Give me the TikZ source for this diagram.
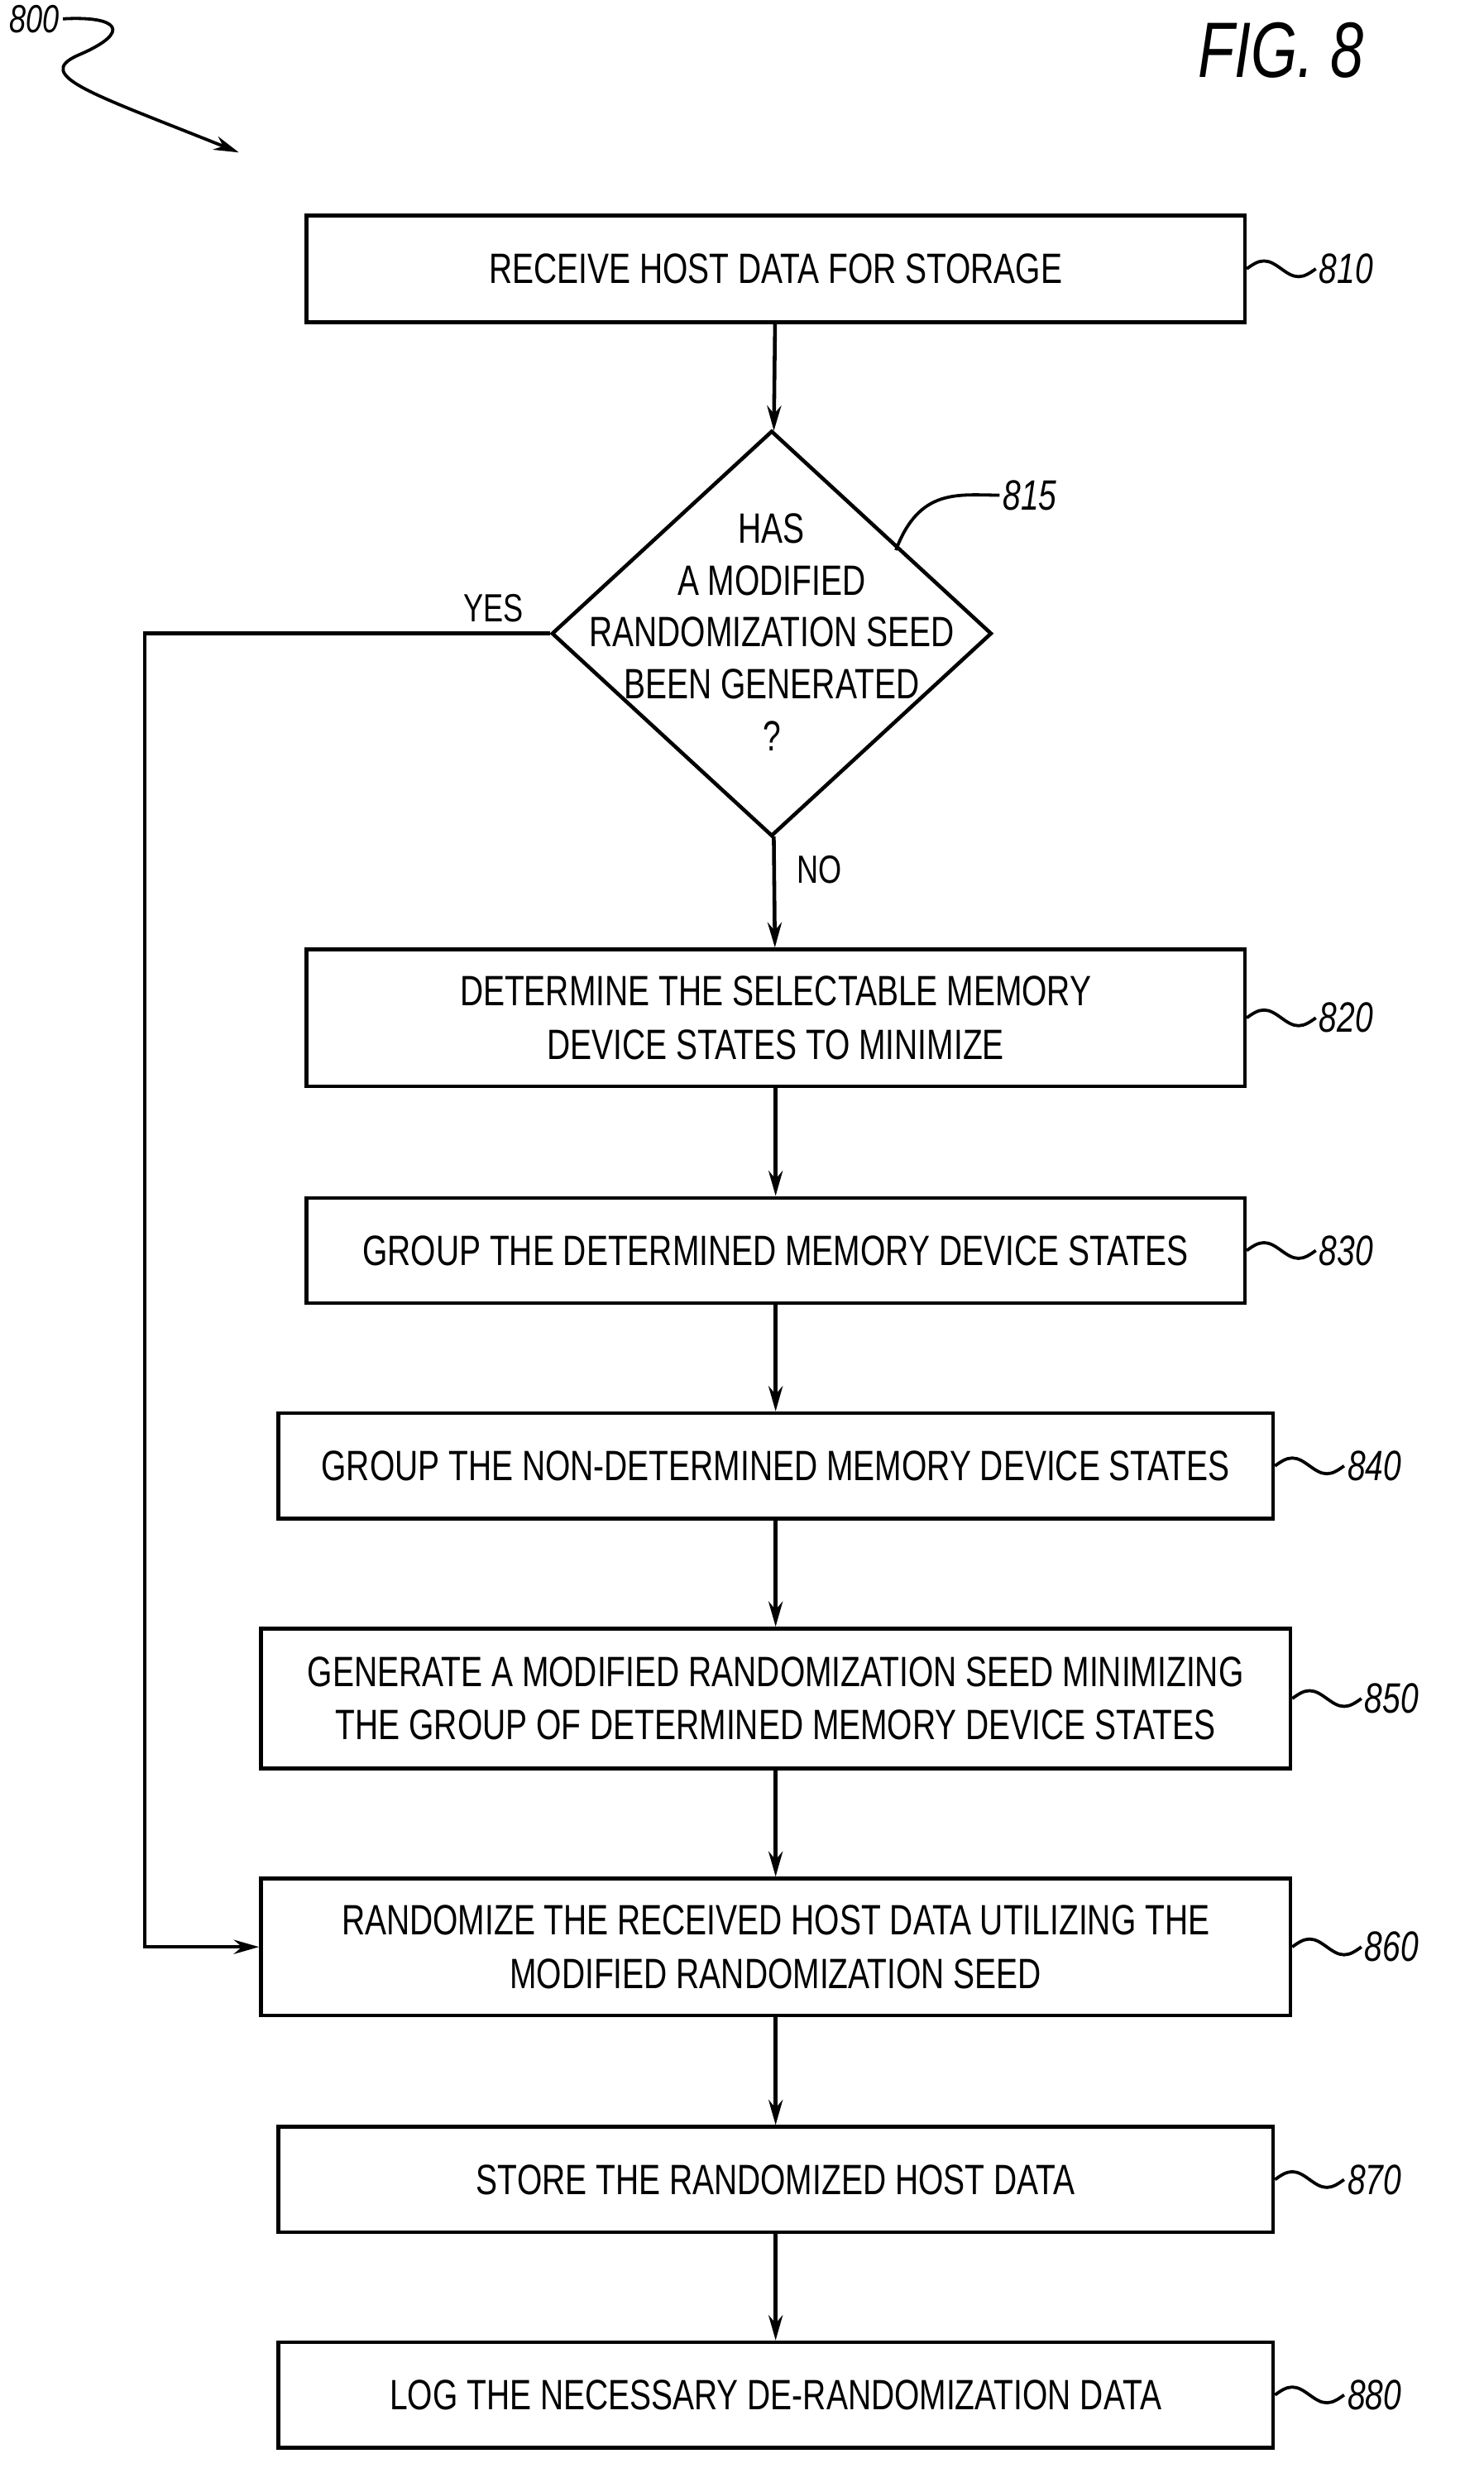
\documentclass[tikz,border=0pt]{standalone}
\usepackage{fontspec}
\setmainfont{Liberation Sans}[FakeStretch=0.76]
\usetikzlibrary{shapes.geometric,arrows.meta}
\begin{document}
\begin{tikzpicture}[x=1pt,y=-1pt,line width=2.4pt,
  box/.style={draw,rectangle,inner sep=0pt,align=center,font=\fontsize{27}{34}\selectfont},
  arr/.style={-{Stealth[length=16pt,width=9pt]}},
  lbl/.style={font=\fontsize{27}{30}\selectfont\itshape,anchor=west,inner sep=1pt},
  lead/.style={line width=2pt}]
\useasboundingbox (0,0) rectangle (944,1570);
\node[box,minimum width=597pt,minimum height=68pt] (b810) at (493.5,171) {RECEIVE HOST DATA FOR STORAGE};
\node[draw,diamond,aspect=1.085,minimum width=280pt,minimum height=258pt,inner sep=0pt] (d) at (491,403) {};
\node[align=center,font=\fontsize{27}{33}\selectfont] (dt) at (491,402) {HAS\\A MODIFIED\\RANDOMIZATION SEED\\BEEN GENERATED\\?};
\node[box,minimum width=597pt,minimum height=87pt] (b820) at (493.5,647.5) {DETERMINE THE SELECTABLE MEMORY\\DEVICE STATES TO MINIMIZE};
\node[box,minimum width=597pt,minimum height=67pt] (b830) at (493.5,795.5) {GROUP THE DETERMINED MEMORY DEVICE STATES};
\node[box,minimum width=633pt,minimum height=67pt] (b840) at (493.5,932.5) {GROUP THE NON-DETERMINED MEMORY DEVICE STATES};
\node[box,minimum width=655pt,minimum height=89pt] (b850) at (493.5,1080.5) {GENERATE A MODIFIED RANDOMIZATION SEED MINIMIZING\\THE GROUP OF DETERMINED MEMORY DEVICE STATES};
\node[box,minimum width=655pt,minimum height=87pt] (b860) at (493.5,1238.5) {RANDOMIZE THE RECEIVED HOST DATA UTILIZING THE\\MODIFIED RANDOMIZATION SEED};
\node[box,minimum width=633pt,minimum height=67pt] (b870) at (493.5,1386.5) {STORE THE RANDOMIZED HOST DATA};
\node[box,minimum width=633pt,minimum height=67pt] (b880) at (493.5,1523.5) {LOG THE NECESSARY DE-RANDOMIZATION DATA};
\draw[arr] (b810) -- (d);
\draw[arr] (d) -- (b820) node[pos=0.3,right=10pt,font=\fontsize{25}{28}\selectfont] (no) {NO};
\draw[arr] (b820) -- (b830);
\draw[arr] (b830) -- (b840);
\draw[arr] (b840) -- (b850);
\draw[arr] (b850) -- (b860);
\draw[arr] (b860) -- (b870);
\draw[arr] (b870) -- (b880);
\coordinate (c1) at (92,403);
\draw[arr] (d.west) -- (c1) |- (b860.west);
\node[font=\fontsize{25}{28}\selectfont] (yes) at (314,387) {YES};
\foreach \b/\n in {b810/810,b820/820,b830/830,b840/840,b850/850,b860/860,b870/870,b880/880}{
  \draw[lead] (\b.east) sin ++(11,-5) cos ++(11,5) sin ++(11,5) cos ++(11,-5) coordinate (e\n);
  \node[lbl] (l\n) at (e\n) {\n};
}
\draw[lead] (570,350) .. controls (585,310) and (610,315) .. (636,315) coordinate (e815);
\node[lbl] (l815) at (e815) {815};
\node[font=\fontsize{25}{28}\selectfont\itshape,inner sep=1pt] (l800) at (22,12) {800};
\coordinate (t800) at (152,97);
\draw[lead,-{Stealth[length=16pt,width=9pt]}] (l800.east) .. controls (75,10) and (85,20) .. (50,35) .. controls (20,48) and (60,60) .. (t800);
\node[font=\fontsize{50}{56}\selectfont\itshape] (fig) at (815,32) {FIG. 8};
\end{tikzpicture}
\end{document}
